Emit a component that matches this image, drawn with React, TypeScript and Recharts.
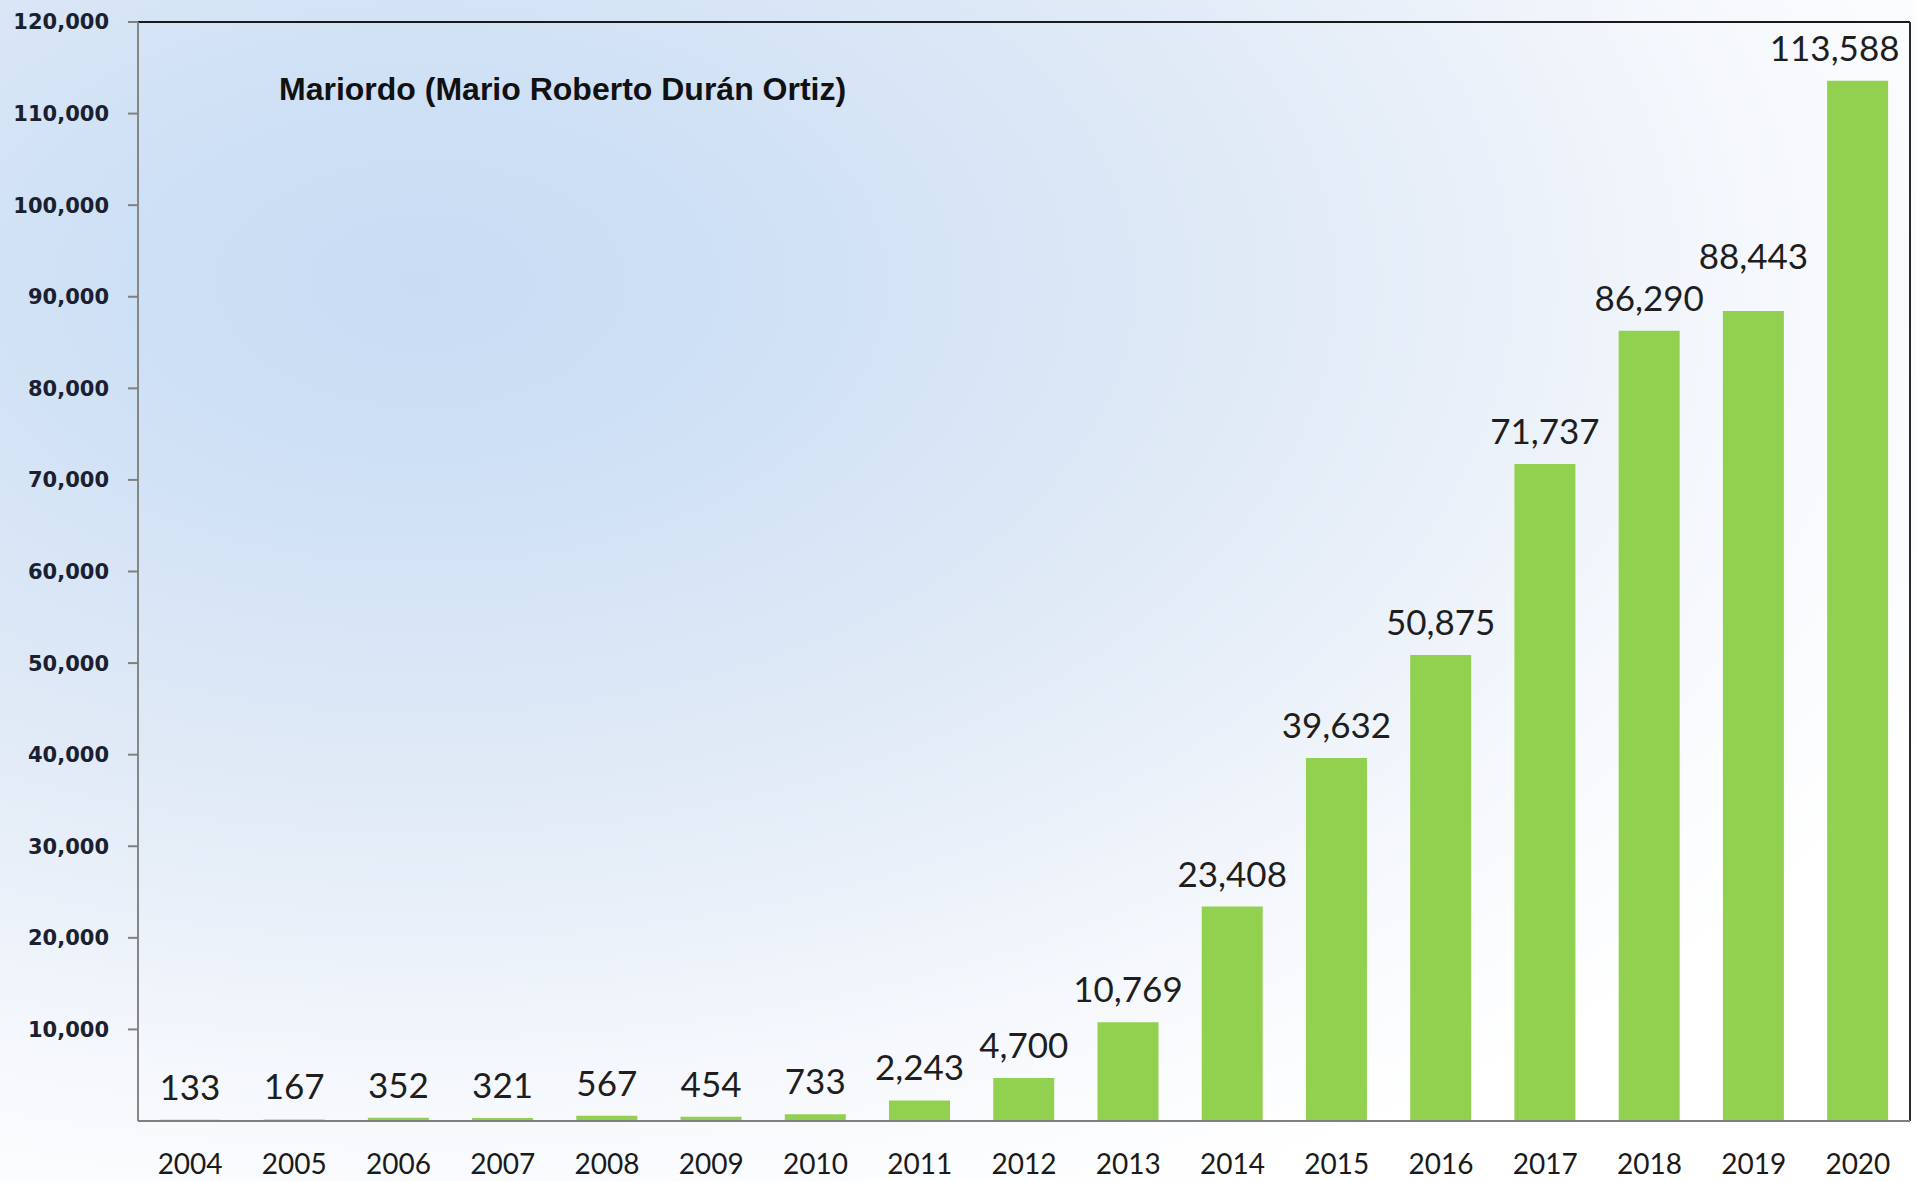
import React from "react";
import { Bar, BarChart, LabelList, ReferenceLine, XAxis, YAxis } from "recharts";

const years = ["2004", "2005", "2006", "2007", "2008", "2009", "2010", "2011", "2012", "2013", "2014", "2015", "2016", "2017", "2018", "2019", "2020"];
const counts = [133, 167, 352, 321, 567, 454, 733, 2243, 4700, 10769, 23408, 39632, 50875, 71737, 86290, 88443, 113588];
const yTicks = [10000, 20000, 30000, 40000, 50000, 60000, 70000, 80000, 90000, 100000, 110000, 120000];
const title = "Mariordo (Mario Roberto Durán Ortiz)";

const data = years.map((year, i) => ({ year, value: counts[i] }));

const fmt = (v: number) => Number(v).toLocaleString("en-US");

// value label above each bar; kept inside the frame and lifted when it would
// collide with the label of a bar of almost the same height next to it
const ValueLabel = (props: any) => {
  const { x, y, width, value, index } = props;
  const txt = fmt(value);
  const fs = 35;
  const w = txt.length * 0.55 * fs;
  let cx = Number(x) + Number(width) / 2;
  if (cx + w / 2 > 1902) cx = 1902 - w / 2;
  let lift = 20;
  const prev = index > 0 ? counts[index - 1] : null;
  if (prev !== null && value > 20000 && value - prev >= 0 && value - prev < 4000) lift += 22;
  return (
    <text x={cx} y={Number(y) - lift} textAnchor="middle" fontSize={fs} fontFamily="Lato" fill="#1e1e1e">
      {txt}
    </text>
  );
};

export default function App() {
  return (
    <div
      style={{
        position: "absolute",
        left: 0,
        top: 0,
        width: 1916,
        height: 1181,
        background:
          "radial-gradient(ellipse at 22% 24%, #c9dcf4 0%, #cee0f5 14%, #e2ebf7 42%, #f4f7fc 62%, #ffffff 80%)",
      }}
    >
      <BarChart
        width={1916}
        height={1181}
        data={data}
        margin={{ top: 22, right: 6, left: 0, bottom: 0 }}
        barCategoryGap="20.5%"
      >
        <XAxis
          dataKey="year"
          height={60}
          tickLine={false}
          tickSize={0}
          tickMargin={33}
          axisLine={{ stroke: "#7f7f7f", strokeWidth: 2 }}
          tick={{ fontSize: 28, fontFamily: "Lato", fill: "#1a1a1a" }}
        />
        <YAxis
          width={138}
          domain={[0, 120000]}
          ticks={yTicks}
          tickFormatter={fmt}
          tickSize={10}
          tickMargin={19}
          tickLine={{ stroke: "#7f7f7f", strokeWidth: 2 }}
          axisLine={{ stroke: "#868686", strokeWidth: 2 }}
          tick={{ fontSize: 21, fontFamily: "DejaVu Sans", fontWeight: "bold", fill: "#1b2030" }}
        />
        <ReferenceLine y={120000} stroke="#1a1a1a" strokeWidth={2} ifOverflow="visible" />
        <ReferenceLine x="2020" position="end" stroke="#2a2a2a" strokeWidth={2} ifOverflow="visible" />
        <Bar dataKey="value" fill="#92d050" isAnimationActive={false}>
          <LabelList dataKey="value" content={<ValueLabel />} />
        </Bar>
        <text
          x={279}
          y={100}
          fontSize={32}
          fontFamily="Liberation Sans"
          fontWeight="bold"
          fill="#111111"
        >
          {title}
        </text>
      </BarChart>
    </div>
  );
}
